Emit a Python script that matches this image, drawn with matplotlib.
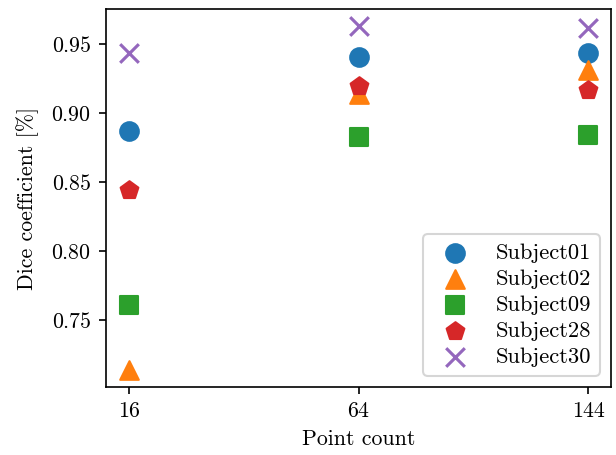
import matplotlib
matplotlib.use("Agg")
import matplotlib.pyplot as plt

plt.rcParams.update({
    "font.family": "cmr10",
    "mathtext.fontset": "cm",
    "axes.formatter.use_mathtext": True,
    "font.size": 10.5,
    "legend.fontsize": 10.8,
})

point_counts = ["16", "64", "144"]
subjects = ["Subject01", "Subject02", "Subject09", "Subject28", "Subject30"]
markers = ["o", "^", "s", "p", "x"]

dice_s01 = [0.887, 0.9405, 0.9435]
dice_s02 = [0.7138, 0.914, 0.931]
dice_s09 = [0.761, 0.883, 0.884]
dice_s28 = [0.844, 0.9195, 0.917]
dice_s30 = [0.9435, 0.963, 0.9615]
dice_all = [dice_s01, dice_s02, dice_s09, dice_s28, dice_s30]

fig, ax = plt.subplots(figsize=(616 / 150, 455 / 150), dpi=150)
fig.subplots_adjust(left=0.172, right=0.992, top=0.980, bottom=0.149)

xs = list(range(len(point_counts)))
for name, mk, vals in zip(subjects, markers, dice_all):
    ax.scatter(xs, vals, marker=mk, s=80, label=name)

ax.set_xticks(xs)
ax.set_xticklabels(point_counts)
ax.set_xlabel("Point count")
ax.set_ylabel("Dice coefficient [%]", labelpad=6)
ax.legend(loc="lower right", scatterpoints=1, labelspacing=0.28)

fig.savefig("out.png", dpi=150)
